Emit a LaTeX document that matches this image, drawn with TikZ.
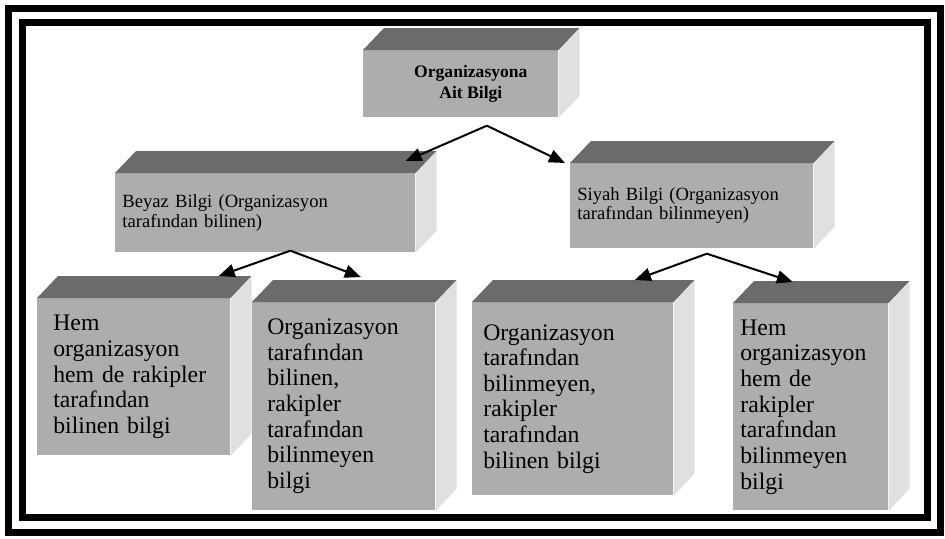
\documentclass[tikz,border=0pt]{standalone}
\usepackage{fontspec}
\setmainfont{Liberation Serif}
\usetikzlibrary{arrows.meta}
\begin{document}
\begin{tikzpicture}
   [x=0.2mm,y=-0.2mm,
    front/.style={fill=black!32,anchor=north west,align=left,inner ysep=0pt},
    topface/.style={fill=black!58},
    sideface/.style={fill=black!12},
    big/.style={font=\fontsize{13.5}{14.6}\selectfont},
    small/.style={font=\fontsize{10.6}{11}\selectfont,inner xsep=1.4mm},
    arr/.style={line width=0.4mm,-{Triangle[length=3.2mm,width=2.6mm]}}]
   \useasboundingbox (0,0) rectangle (945,539);
   \draw[line width=1.4mm] (8,8) rectangle (940,532);
   \draw[line width=1.4mm] (22,22) rectangle (927,517);

   \node[front,align=center,minimum width=39mm,minimum height=13.4mm,
         font=\bfseries\fontsize{10}{11.5}\selectfont] (org) at (363,50)
         {\hspace*{4mm}Organizasyona\\\hspace*{4mm}Ait Bilgi};
   \node[front,small,text width=57.2mm,minimum height=15.8mm] (beyaz) at (115,173)
         {Beyaz Bilgi (Organizasyon\\tarafından bilinen)};
   \node[front,small,text width=45.8mm,minimum height=17mm] (siyah) at (570,163)
         {Siyah Bilgi (Organizasyon\\tarafından bilinmeyen)};

   \node[front,big,inner xsep=3.2mm,text width=32.2mm,minimum height=31.4mm] (hem1) at (37,298)
         {Hem\\organizasyon\\hem de rakipler\\tarafından\\bilinen bilgi};
   \node[front,big,inner xsep=3mm,text width=30.6mm,minimum height=41.6mm] (bilinen) at (252,302)
         {Organizasyon\\tarafından\\bilinen,\\rakipler\\tarafından\\bilinmeyen\\bilgi};
   \node[front,big,inner xsep=2.2mm,text width=35.8mm,minimum height=38.6mm] (bilinmeyen) at (472,302)
         {Organizasyon\\tarafından\\bilinmeyen,\\rakipler\\tarafından\\bilinen bilgi};
   \node[front,big,inner xsep=1.4mm,text width=28.2mm,minimum height=41.4mm] (hem2) at (733,303)
         {Hem\\organizasyon\\hem de\\rakipler\\tarafından\\bilinmeyen\\bilgi};

   \foreach \n in {org,beyaz,siyah,hem1,bilinen,bilinmeyen,hem2} {
      \fill[topface] (\n.north west) -- ++(21,-22) -- ([shift={(21,-22)}]\n.north east) -- (\n.north east) -- cycle;
      \fill[sideface] (\n.north east) -- ++(21,-22) -- ([shift={(21,-22)}]\n.south east) -- (\n.south east) -- cycle;
   }

   \coordinate (orgfork) at ([shift={(26,8)}]org.south);
   \coordinate (beyazfork) at ([shift={(25,-2)}]beyaz.south);
   \coordinate (siyahfork) at ([shift={(15,5)}]siyah.south);
   \draw[arr] (orgfork) -- ([shift={(-10,-12)}]beyaz.north east);
   \draw[arr] (orgfork) -- ([shift={(-5,0)}]siyah.north west);
   \draw[arr] (beyazfork) -- ([shift={(-12,-22)}]hem1.north east);
   \draw[arr] (beyazfork) -- ([shift={(17,-25)}]bilinen.north);
   \draw[arr] (siyahfork) -- ([shift={(62,-22)}]bilinmeyen.north);
   \draw[arr] (siyahfork) -- ([shift={(-18,-21)}]hem2.north);
\end{tikzpicture}
\end{document}
